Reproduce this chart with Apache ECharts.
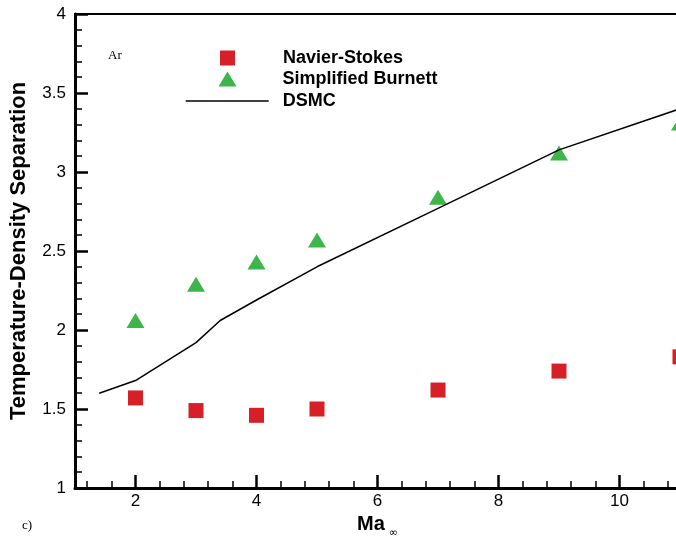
<!DOCTYPE html>
<html>
<head>
<meta charset="utf-8">
<script src="https://cdn.jsdelivr.net/npm/echarts@6/dist/echarts.min.js"></script>
<style>html,body{margin:0;padding:0;background:#fff;}#c{width:676px;height:537px;}</style>
</head>
<body>
<div id="c"></div>
<script>
// ---- data ----
var nsX = [2, 3, 4, 5, 7, 9, 11];
var nsY = [1.57, 1.49, 1.46, 1.50, 1.62, 1.74, 1.83];
var burnettX = [2, 3, 4, 5, 7, 9, 11];
var burnettY = [2.06, 2.29, 2.43, 2.57, 2.84, 3.12, 3.31];
var dsmcX = [1.4, 2, 3, 3.4, 4, 5, 7, 9, 11];
var dsmcY = [1.60, 1.68, 1.92, 2.06, 2.19, 2.40, 2.77, 3.14, 3.40];
var xMajorTicks = [2, 4, 6, 8, 10];
var xMinorTicks = [1.2, 1.6, 2.4, 2.8, 3.2, 3.6, 4.4, 4.8, 5.2, 5.6, 6.4, 6.8, 7.2, 7.6, 8.4, 8.8, 9.2, 9.6, 10.4, 10.8];
var seriesNames = ['Navier-Stokes', 'Simplified Burnett', 'DSMC'];

function zip(xs, ys) { return xs.map(function (x, i) { return [x, ys[i]]; }); }

var SANS = '"Liberation Sans", Arial, Helvetica, sans-serif';
var SERIF = '"Liberation Serif", "Times New Roman", serif';

var chart = echarts.init(document.getElementById('c'), null, {renderer: 'canvas'});
var legendText = {fontSize: 18, fontWeight: 'bold', fontFamily: SANS, color: '#000'};
chart.setOption({
  backgroundColor: '#fff',
  animation: false,
  title: [
    {text: 'Ar', left: 108, top: 49, textStyle: {fontSize: 13, fontWeight: 'normal', fontFamily: SERIF, color: '#000'}, padding: 0},
    {text: 'c)', left: 22, top: 519, textStyle: {fontSize: 13, fontWeight: 'normal', fontFamily: SERIF, color: '#000'}, padding: 0}
  ],
  legend: [
    {data: [seriesNames[0]], left: 220, top: 49, padding: 0, itemWidth: 15, itemHeight: 15, selectedMode: false,
     textStyle: Object.assign({padding: [2, 0, 0, 43]}, legendText)},
    {data: [seriesNames[1]], left: 218.5, top: 70, padding: 0, itemWidth: 18, itemHeight: 15, selectedMode: false,
     textStyle: Object.assign({padding: [2, 0, 0, 41]}, legendText)},
    {data: [seriesNames[2]], left: 185.7, top: 92, padding: 0, itemWidth: 83, itemHeight: 1.5, icon: 'rect', selectedMode: false,
     textStyle: Object.assign({padding: [2, 0, 0, 9]}, legendText)}
  ],
  grid: {left: 75, top: 14, width: 605, height: 474, show: true, borderColor: '#000', borderWidth: 2,
         containLabel: false, outerBoundsMode: 'none'},
  xAxis: [
    {
      type: 'value', min: 1, max: 11,
      name: '{a|Ma}{b|∞}', nameLocation: 'middle', nameGap: 19,
      nameTextStyle: {
        rich: {
          a: {fontSize: 20, fontWeight: 'bold', fontFamily: SANS, color: '#000'},
          b: {fontSize: 11, fontFamily: 'DejaVu Sans', color: '#000', padding: [16, 0, 0, 4]}
        }
      },
      axisLine: {show: true, lineStyle: {color: '#000', width: 3}},
      axisTick: {show: true, inside: true, length: 13, customValues: xMajorTicks, lineStyle: {color: '#000', width: 2.5}},
      axisLabel: {show: true, margin: 5, customValues: xMajorTicks, fontSize: 17, fontFamily: SANS, color: '#000'},
      splitLine: {show: false}
    },
    {
      type: 'value', min: 1, max: 11, position: 'bottom', gridIndex: 0,
      axisLine: {show: false},
      axisTick: {show: true, inside: true, length: 7, customValues: xMinorTicks, lineStyle: {color: '#000', width: 1.5}},
      axisLabel: {show: false},
      splitLine: {show: false}
    }
  ],
  yAxis: {
    type: 'value', min: 1, max: 4, interval: 0.5,
    name: 'Temperature-Density Separation', nameLocation: 'middle', nameGap: 45,
    nameTextStyle: {fontSize: 22, fontWeight: 'bold', fontFamily: SANS, color: '#000'},
    axisLine: {show: true, lineStyle: {color: '#000', width: 3}},
    axisTick: {show: true, inside: true, length: 13, lineStyle: {color: '#000', width: 2.5}},
    minorTick: {show: true, splitNumber: 5, length: 7, lineStyle: {color: '#000', width: 1.5}},
    axisLabel: {margin: 9, fontSize: 17, fontFamily: SANS, color: '#000'},
    splitLine: {show: false},
    minorSplitLine: {show: false}
  },
  series: [
    {name: seriesNames[0], type: 'scatter', symbol: 'rect', symbolSize: 15,
     itemStyle: {color: '#d71f27', opacity: 1}, data: zip(nsX, nsY)},
    {name: seriesNames[1], type: 'scatter', symbol: 'triangle', symbolSize: [18, 15],
     itemStyle: {color: '#3db54a', opacity: 1}, data: zip(burnettX, burnettY)},
    {name: seriesNames[2], type: 'line', symbol: 'none', showSymbol: false,
     lineStyle: {color: '#000', width: 1.5}, itemStyle: {color: '#000'}, data: zip(dsmcX, dsmcY)}
  ]
});
</script>
</body>
</html>
